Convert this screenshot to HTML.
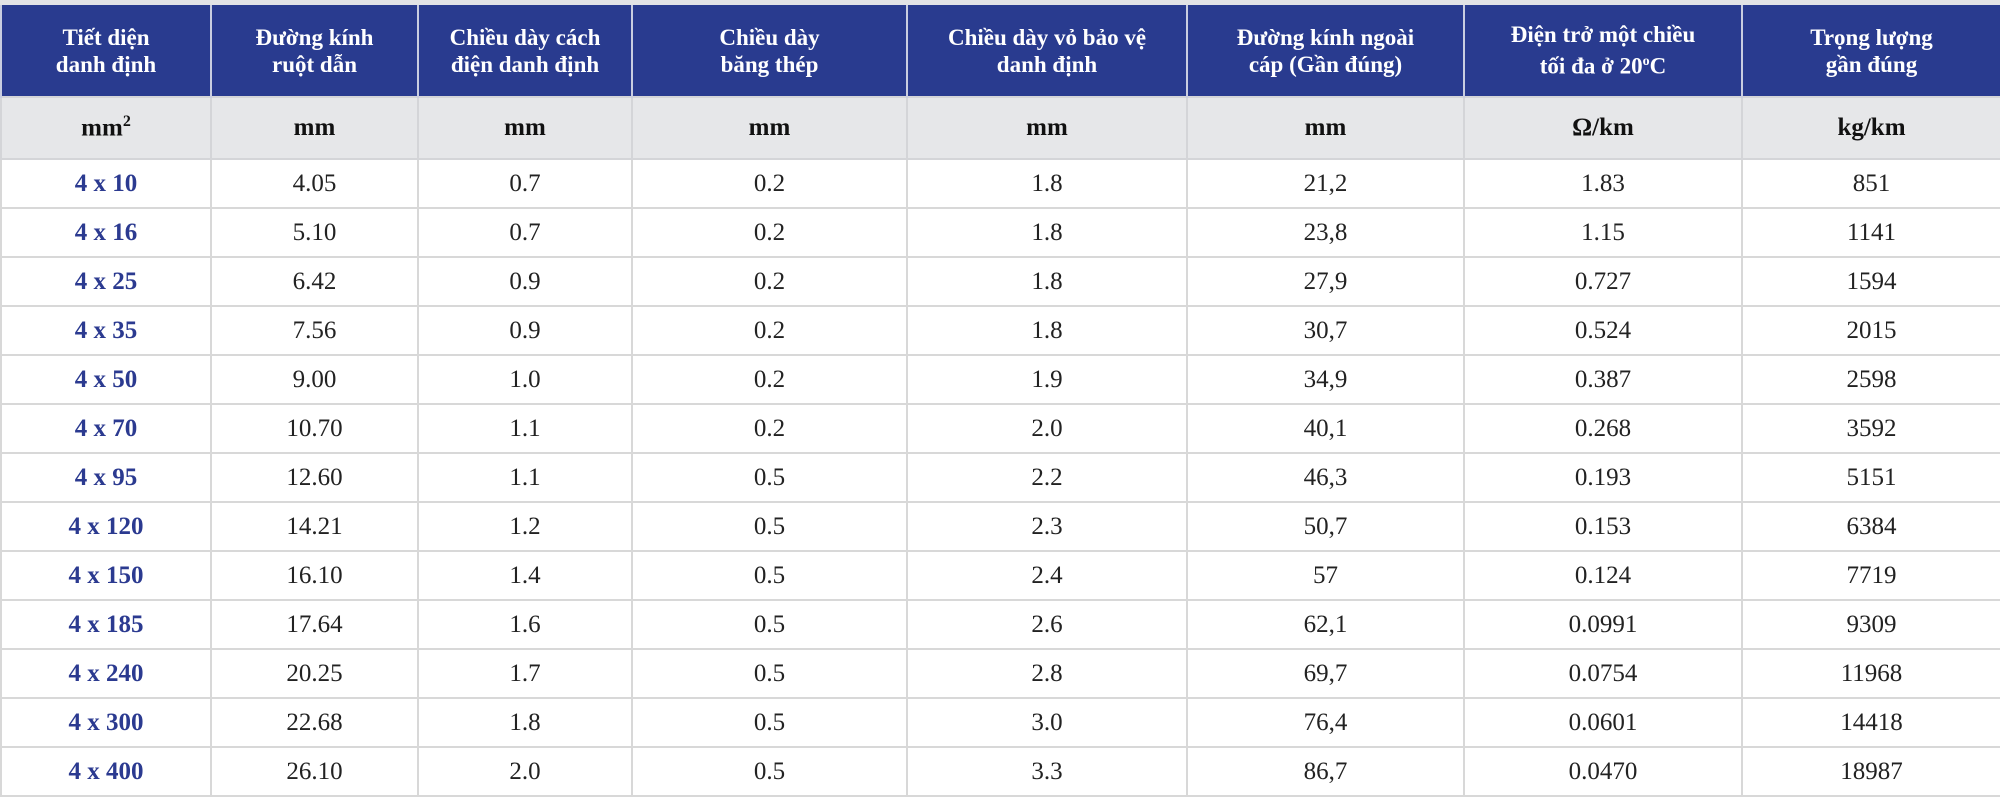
<!DOCTYPE html>
<html><head><meta charset="utf-8"><style>
html,body{margin:0;padding:0;background:#fff;}
body{width:2000px;height:793px;overflow:hidden;position:relative;font-family:"Liberation Serif",serif;}
#strip{position:absolute;left:0;top:0;width:2000px;height:6px;background:#e2e3e6;}
table{position:absolute;left:0;top:5px;width:2000px;border-collapse:collapse;table-layout:fixed;}
td,th{text-align:center;padding:0;}
thead th{background:#293b8f;color:#fff;font-weight:bold;font-size:23px;line-height:27px;height:91px;border-left:2px solid #c9cde0;border-right:2px solid #c9cde0;}
tr.units td{background:#e6e7e9;font-weight:bold;font-size:25px;height:60px;color:#111;border:2px solid #d4d5d8;}
tbody tr.r td{height:47px;font-size:25px;color:#222;border:2px solid #d8d8d8;}
tbody tr.r td:first-child{color:#2b3a90;font-weight:bold;}
</style></head><body>
<div id="strip"></div>
<table>
<colgroup><col style="width:210px"><col style="width:207px"><col style="width:214px"><col style="width:275px"><col style="width:280px"><col style="width:277px"><col style="width:278px"><col style="width:259px"></colgroup>
<thead><tr>
<th>Tiết diện<br>danh định</th>
<th>Đường kính<br>ruột dẫn</th>
<th>Chiều dày cách<br>điện danh định</th>
<th>Chiều dày<br>băng thép</th>
<th>Chiều dày vỏ bảo vệ<br>danh định</th>
<th>Đường kính ngoài<br>cáp (Gần đúng)</th>
<th>Điện trở một chiều<br>tối đa ở 20<sup style="font-size:14px">o</sup>C</th>
<th>Trọng lượng<br>gần đúng</th>
</tr></thead>
<tbody id="tb">
<tr class="units"><td>mm<sup style="font-size:16px">2</sup></td><td>mm</td><td>mm</td><td>mm</td><td>mm</td><td>mm</td><td>Ω/km</td><td>kg/km</td></tr>
</tbody></table>
<script>
const sizes=["4 x 10","4 x 16","4 x 25","4 x 35","4 x 50","4 x 70","4 x 95","4 x 120","4 x 150","4 x 185","4 x 240","4 x 300","4 x 400"];
const conductor=["4.05","5.10","6.42","7.56","9.00","10.70","12.60","14.21","16.10","17.64","20.25","22.68","26.10"];
const insulation=["0.7","0.7","0.9","0.9","1.0","1.1","1.1","1.2","1.4","1.6","1.7","1.8","2.0"];
const steel=["0.2","0.2","0.2","0.2","0.2","0.2","0.5","0.5","0.5","0.5","0.5","0.5","0.5"];
const sheath=["1.8","1.8","1.8","1.8","1.9","2.0","2.2","2.3","2.4","2.6","2.8","3.0","3.3"];
const outer=["21,2","23,8","27,9","30,7","34,9","40,1","46,3","50,7","57","62,1","69,7","76,4","86,7"];
const resist=["1.83","1.15","0.727","0.524","0.387","0.268","0.193","0.153","0.124","0.0991","0.0754","0.0601","0.0470"];
const weight=["851","1141","1594","2015","2598","3592","5151","6384","7719","9309","11968","14418","18987"];
const tb=document.getElementById('tb');
for(let i=0;i<sizes.length;i++){
  const tr=document.createElement('tr');
  tr.className='r';
  
  
  [sizes,conductor,insulation,steel,sheath,outer,resist,weight].forEach(a=>{
    const td=document.createElement('td');
    
    
    td.textContent=a[i];
    tr.appendChild(td);
  });
  tb.appendChild(tr);
}
</script>
</body></html>
